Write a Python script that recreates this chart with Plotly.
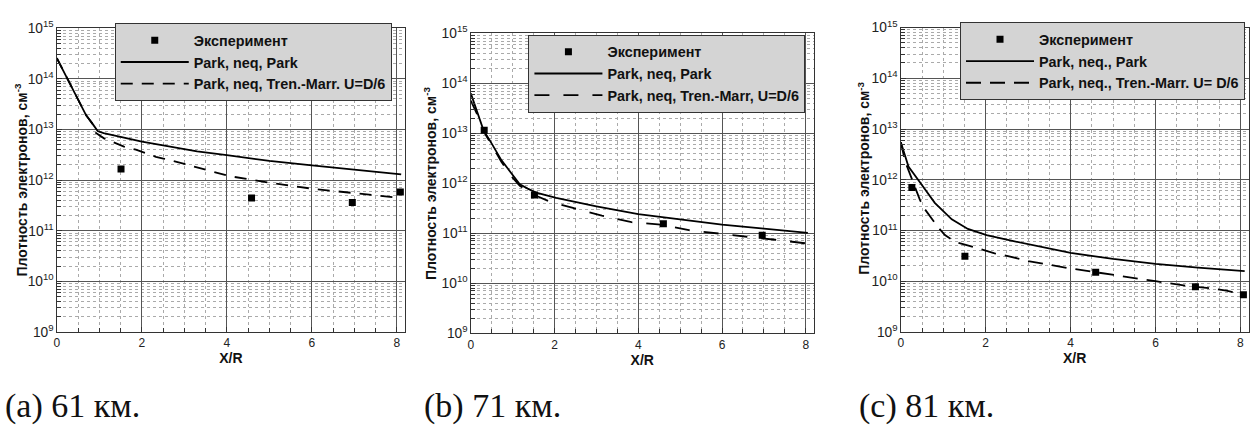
import plotly.graph_objects as go

# ---------------- data ----------------
# Panel (a) 61 km
a_park_x = [0, 0.2, 0.38, 0.55, 0.69, 0.85, 0.96, 1.1, 1.2, 1.5, 2.0, 2.7, 3.3, 4.0, 5.0, 6.0, 7.0, 8.1]
a_park_y = [2.57e14, 1.2e14, 6.0e13, 3.2e13, 1.9e13, 1.26e13, 9.3e12, 8.5e12, 8.1e12, 7.1e12, 5.75e12,
            4.47e12, 3.7e12, 3.1e12, 2.4e12, 1.95e12, 1.58e12, 1.29e12]
a_tm_x = [0, 0.2, 0.38, 0.55, 0.69, 0.85, 0.92, 1.12, 1.39, 1.58, 1.86, 2.06, 2.33, 2.53, 3.0, 4.05, 5.0,
          6.0, 7.0, 8.1]
a_tm_y = [2.57e14, 1.2e14, 6.0e13, 3.2e13, 1.9e13, 1.26e13, 8.5e12, 6.6e12, 5.25e12, 4.57e12, 3.98e12,
          3.47e12, 2.88e12, 2.63e12, 2.09e12, 1.2e12, 8.9e11, 6.76e11, 5.5e11, 4.4e11]
a_exp_x = [1.51, 4.58, 6.95, 8.08]
a_exp_y = [1.65e12, 4.4e11, 3.6e11, 5.8e11]

# Panel (b) 71 km
b_park_x = [0, 0.15, 0.3, 0.5, 0.73, 0.95, 1.17, 1.36, 1.56, 2.04, 2.52, 3.0, 4.0, 5.0, 6.0, 7.0, 8.05]
b_park_y = [6.3e13, 2.75e13, 1.17e13, 6.2e12, 2.9e12, 1.66e12, 9.5e11, 7.8e11, 6.5e11, 5.1e11, 4.2e11,
            3.45e11, 2.4e11, 1.86e11, 1.48e11, 1.23e11, 1.02e11]
b_tm_x = [0, 0.15, 0.3, 0.5, 0.73, 0.97, 1.17, 1.56, 1.88, 2.44, 3.13, 3.84, 4.54, 5.21, 5.9, 6.6, 7.27, 8.05]
b_tm_y = [4.5e13, 2.4e13, 1.12e13, 5.6e12, 2.7e12, 1.38e12, 8.9e11, 5.6e11, 4.3e11, 3.2e11, 2.24e11,
          1.66e11, 1.48e11, 1.15e11, 9.8e10, 8.5e10, 7.4e10, 6.2e10]
b_exp_x = [0.32, 1.52, 4.6, 6.96]
b_exp_y = [1.15e13, 5.8e11, 1.55e11, 9.1e10]

# Panel (c) 81 km
c_park_x = [0, 0.18, 0.45, 0.62, 0.8, 1.0, 1.2, 1.58, 2.02, 2.6, 3.0, 4.0, 5.0, 6.0, 7.0, 8.1]
c_park_y = [5.5e12, 1.82e12, 8.9e11, 5.5e11, 3.5e11, 2.4e11, 1.66e11, 1.07e11, 8.1e10, 6.3e10, 5.4e10,
            3.6e10, 2.75e10, 2.2e10, 1.86e10, 1.58e10]
c_tm_x = [0, 0.1, 0.18, 0.45, 0.57, 0.73, 0.88, 1.04, 1.27, 1.51, 1.74, 2.02, 2.21, 2.5, 3.0, 4.0, 5.0,
          6.0, 6.75, 7.2, 7.67, 8.1]
c_tm_y = [5.5e12, 2.3e12, 1.55e12, 4.0e11, 2.6e11, 1.7e11, 1.15e11, 8.1e10, 6.0e10, 5.25e10, 4.6e10,
          3.9e10, 3.55e10, 3.16e10, 2.5e10, 1.78e10, 1.32e10, 1.0e10, 8.1e9, 7.4e9, 6.5e9, 5.4e9]
c_exp_x = [0.26, 1.51, 4.59, 6.94, 8.07]
c_exp_y = [7.0e11, 3.1e10, 1.5e10, 7.8e9, 5.4e9]

legend_a = ["Эксперимент", "Park, neq, Park", "Park, neq, Tren.-Marr. U=D/6"]
legend_b = ["Эксперимент", "Park, neq, Park", "Park, neq, Tren.-Marr, U=D/6"]
legend_c = ["Эксперимент", "Park, neq., Park", "Park, neq., Tren.-Marr. U= D/6"]
captions = ["(a) 61 км.", "(b) 71 км.", "(c) 81 км."]
y_title = "Плотность электронов, см<sup>-3</sup>"
x_title = "X/R"

# ---------------- layout geometry ----------------
W, H = 1250, 430
panels = [
    dict(px=(54, 403.3), py=(19, 336), leg=(390, 14), dash="12px,9px", name="legend",
         data=(a_exp_x, a_exp_y, a_park_x, a_park_y, a_tm_x, a_tm_y), labels=legend_a,
         cap_x=0, yt=(18, 177)),
    dict(px=(469.3, 813.3), py=(24.3, 337.3), leg=(805, 26), dash="15px,14px", name="legend2",
         data=(b_exp_x, b_exp_y, b_park_x, b_park_y, b_tm_x, b_tm_y), labels=legend_b,
         cap_x=420, yt=(429, 181)),
    dict(px=(900.7, 1249.5), py=(18.3, 336), leg=(1246, 13), dash="15px,9px", name="legend3",
         data=(c_exp_x, c_exp_y, c_park_x, c_park_y, c_tm_x, c_tm_y), labels=legend_c,
         cap_x=857, yt=(863, 176)),
]

fig = go.Figure()
font_fam = "Liberation Sans, Arial, sans-serif"
layout = dict(width=W, height=H, margin=dict(l=0, r=0, t=0, b=0),
              paper_bgcolor="white", plot_bgcolor="white", showlegend=True)
annotations = []

for i, p in enumerate(panels):
    k = "" if i == 0 else str(i + 1)
    ex, ey, px_, py_, tx, ty = p["data"]
    xa, ya = "x" + k, "y" + k
    fig.add_trace(go.Scatter(x=ex, y=ey, mode="markers", name=p["labels"][0], xaxis=xa, yaxis=ya,
                             marker=dict(symbol="square", size=7, color="black"), legend=p["name"]))
    fig.add_trace(go.Scatter(x=px_, y=py_, mode="lines", name=p["labels"][1], xaxis=xa, yaxis=ya,
                             line=dict(color="black", width=1.8), legend=p["name"]))
    fig.add_trace(go.Scatter(x=tx, y=ty, mode="lines", name=p["labels"][2], xaxis=xa, yaxis=ya,
                             line=dict(color="black", width=1.8, dash=p["dash"]), legend=p["name"]))

    xdom = [p["px"][0] / W, p["px"][1] / W]
    ydom = [1 - p["py"][1] / H, 1 - p["py"][0] / H]
    layout["xaxis" + k] = dict(
        domain=xdom, anchor=ya, range=[0, 8.19], dtick=2, tick0=0,
        showline=True, linecolor="#333", linewidth=1, mirror=True, zeroline=False,
        showgrid=True, gridcolor="#555", gridwidth=1,
        ticks="inside", ticklen=5, tickcolor="#333",
        minor=dict(dtick=0.5, ticks="inside", ticklen=4, tickcolor="#333",
                   showgrid=True, gridcolor="#aaa", griddash="dot", gridwidth=1),
        tickfont=dict(family=font_fam, size=12, color="#222"),
        title=dict(text=x_title, font=dict(family=font_fam, size=14, color="#111", weight="bold"),
                   standoff=1),
    )
    layout["yaxis" + k] = dict(
        domain=ydom, anchor=xa, type="log", range=[9, 15], dtick=1,
        exponentformat="power", showexponent="all",
        showline=True, linecolor="#333", linewidth=1, mirror=True, zeroline=False,
        showgrid=True, gridcolor="#555", gridwidth=1,
        ticks="inside", ticklen=5, tickcolor="#333",
        minor=dict(dtick="D1", ticks="inside", ticklen=4, tickcolor="#333",
                   showgrid=True, gridcolor="#aaa", griddash="dot", gridwidth=1),
        tickfont=dict(family=font_fam, size=11, color="#222"),
    )
    layout[p["name"]] = dict(
        x=p["leg"][0] / W, y=1 - p["leg"][1] / H, xanchor="right", yanchor="top",
        bgcolor="#d4d4d4", bordercolor="#333", borderwidth=1, itemwidth=68,
        font=dict(family=font_fam, size=14.4, color="#111", weight="bold"),
        tracegroupgap=0, itemclick=False, itemdoubleclick=False,
    )
    annotations.append(dict(
        text=y_title, xref="paper", yref="paper", x=p["yt"][0] / W, y=1 - p["yt"][1] / H,
        xanchor="center", yanchor="middle", textangle=-90, showarrow=False,
        font=dict(family=font_fam, size=14, color="#111", weight="bold"),
    ))
    annotations.append(dict(
        text=captions[i], xref="paper", yref="paper", x=p["cap_x"] / W, y=1 - 413 / H,
        xanchor="left", yanchor="middle", showarrow=False,
        font=dict(family="Liberation Serif, Times New Roman, serif", size=34, color="#111"),
    ))

layout["annotations"] = annotations
fig.update_layout(**layout)
fig.write_html("out.html")
